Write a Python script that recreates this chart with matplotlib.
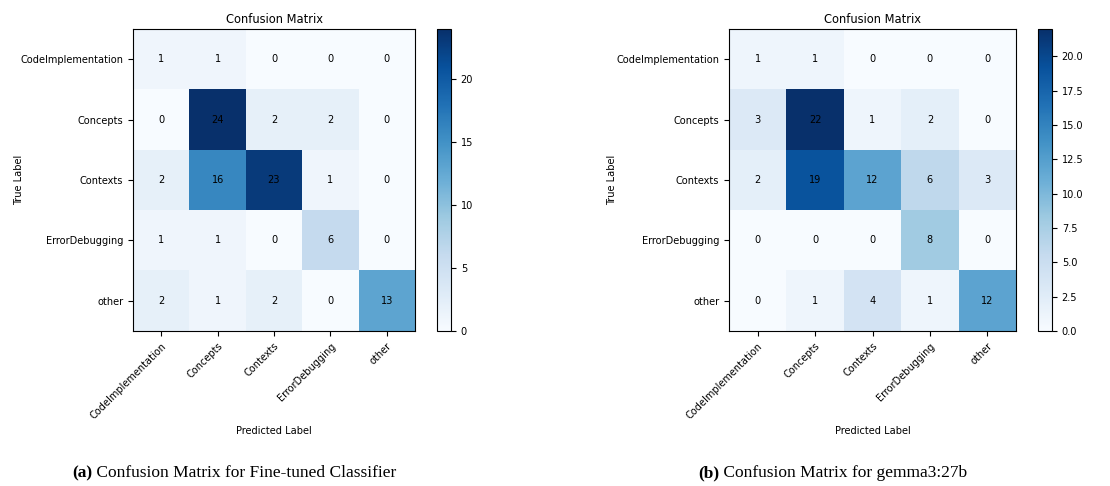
import numpy as np
import matplotlib.pyplot as plt
from matplotlib.ticker import MultipleLocator, FormatStrFormatter

labels = ["CodeImplementation", "Concepts", "Contexts", "ErrorDebugging", "other"]

# fine-tuned classifier
cm_finetuned = [
    [1, 1, 0, 0, 0],
    [0, 24, 2, 2, 0],
    [2, 16, 23, 1, 0],
    [1, 1, 0, 6, 0],
    [2, 1, 2, 0, 13],
]

# gemma3:27b
cm_gemma = [
    [1, 1, 0, 0, 0],
    [3, 22, 1, 2, 0],
    [2, 19, 12, 6, 3],
    [0, 0, 0, 8, 0],
    [0, 1, 4, 1, 12],
]

captions = [("(a)", " Confusion Matrix for Fine-tuned Classifier"),
            ("(b)", " Confusion Matrix for gemma3:27b")]

# the reference text looks horizontally squeezed, condensed DejaVu is closest
plt.rcParams["font.stretch"] = "condensed"

W, H = 1110, 486
fig = plt.figure(figsize=(W / 100, H / 100), dpi=100)
fs = 7.8


def px(x0, y0, x1, y1):
    # pixel box -> figure fraction
    return [x0 / W, 1 - y1 / H, (x1 - x0) / W, (y1 - y0) / H]


def draw_cm(cm, ax_box, cb_box, ylab_x):
    cm = np.array(cm)
    ax = fig.add_axes(px(*ax_box))
    im = ax.imshow(cm, cmap="Blues", aspect="auto", interpolation="nearest")
    ax.set_title("Confusion Matrix", fontsize=9.2, pad=4)
    ax.set_xticks(range(len(labels)))
    ax.set_yticks(range(len(labels)))
    ax.set_xticklabels(labels, rotation=45, ha="right", rotation_mode="anchor", fontsize=fs)
    ax.set_yticklabels(labels, fontsize=fs)
    ax.set_xlabel("Predicted Label", fontsize=fs)
    ax.set_ylabel("True Label", fontsize=fs)
    ax.yaxis.set_label_coords(ylab_x, 0.5)
    for i in range(cm.shape[0]):
        for j in range(cm.shape[1]):
            ax.text(j, i, str(cm[i, j]), ha="center", va="center", color="black", fontsize=fs)
    cax = fig.add_axes(px(*cb_box))
    cb = fig.colorbar(im, cax=cax)
    cb.ax.tick_params(labelsize=fs)
    return ax, cb


ax1, cb1 = draw_cm(cm_finetuned, (133, 29, 415, 331), (437, 29, 451, 331), -0.385)
ax2, cb2 = draw_cm(cm_gemma, (729, 29, 1016, 331), (1038, 29, 1052, 331), -0.39)
cb2.ax.yaxis.set_major_locator(MultipleLocator(2.5))
cb2.ax.yaxis.set_major_formatter(FormatStrFormatter("%.1f"))

serif = "Liberation Serif"
for (tag, rest), cx in zip(captions, (234, 832)):
    t = fig.text(cx / W, 1 - 473 / H, tag + rest, family=serif, fontsize=12.5, ha="center", va="center", alpha=0)
    fig.canvas.draw()
    bb = t.get_window_extent()
    t.remove()
    a = fig.text(bb.x0 / W, 1 - 473 / H, tag, family=serif, fontsize=12.5, weight="bold", ha="left", va="center")
    abb = a.get_window_extent()
    fig.text(abb.x1 / W, 1 - 473 / H, rest, family=serif, fontsize=12.5, ha="left", va="center")

fig.savefig("out.png", dpi=100)
